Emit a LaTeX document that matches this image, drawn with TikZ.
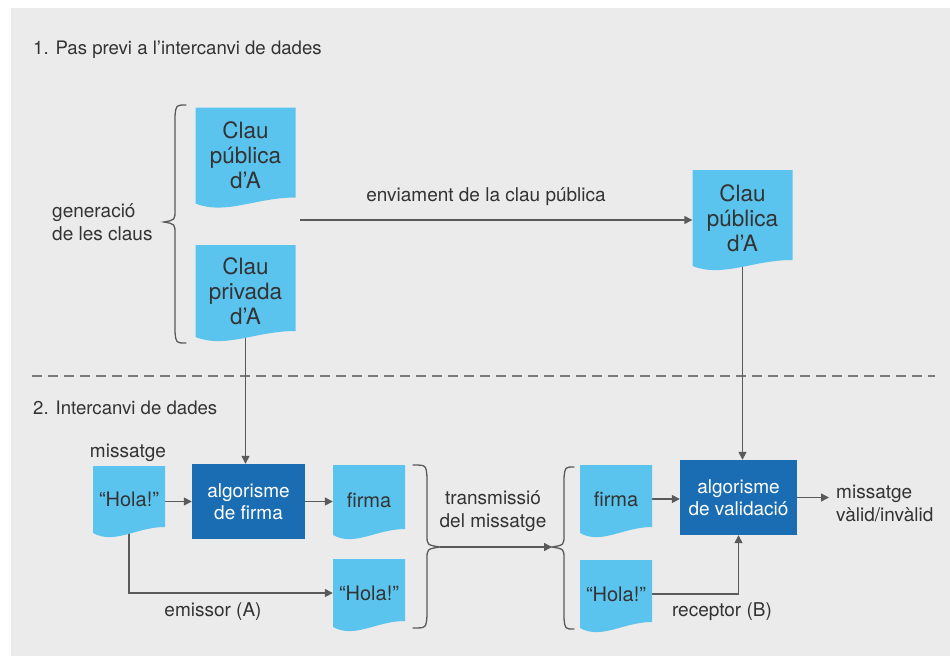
\documentclass[tikz,border=0pt]{standalone}
\usepackage{fontspec}
\setmainfont{TeX Gyre Heros}
\usetikzlibrary{arrows.meta}

\definecolor{bgpanel}{HTML}{EBEBEB}
\definecolor{docfill}{HTML}{5BC4EE}
\definecolor{algofill}{HTML}{1A6DB3}
\definecolor{inkgray}{HTML}{333333}
\definecolor{wiregray}{HTML}{5A5A5A}
\definecolor{dashgray}{HTML}{7A7A7A}

\pgfdeclarelayer{back}
\pgfdeclarelayer{wires}
\pgfsetlayers{back,wires,main}

\tikzset{
  doctext/.style={inner sep=0pt, align=center, text=inkgray,
    font=\fontsize{20}{25}\selectfont},
  keytext/.style={font=\fontsize{22.5}{25}\selectfont},
  algobox/.style={fill=algofill, text=white, align=center, inner sep=0pt,
    font=\fontsize{19}{22}\selectfont},
  lbltext/.style={text=inkgray, inner sep=0pt,
    font=\fontsize{19}{23}\selectfont},
  wire/.style={draw=wiregray, line width=1.4pt},
  arrow/.style={wire, -{Triangle[length=8pt,width=8pt]}},
  curly/.style={draw=wiregray, line width=1.3pt, line cap=round},
}

% document symbol: name, left, top, width, height, text (optional extra style)
\newcommand{\docbox}[7][]{%
  \fill[docfill] (#3,#4) -- (#3+#5,#4) -- (#3+#5,#4+#6-6)
    .. controls (#3+0.6*#5,#4+#6-6) and (#3+0.3*#5,#4+#6+12) .. (#3,#4+#6) -- cycle;
  \node[doctext, #1, minimum width=#5pt, minimum height=#6pt] (#2) at (#3+#5/2,#4+#6/2) {#7};
}

\begin{document}
\begin{tikzpicture}[x=1pt, y=-1pt]
  \useasboundingbox (0,0) rectangle (950,656);
  \begin{pgfonlayer}{back}
    \fill[white] (0,0) rectangle (950,656);
    \fill[bgpanel] (11,8) rectangle (950,656);
    \draw[dashgray, line width=2pt, dash pattern=on 10pt off 6pt] (32,376) -- (935,376);
  \end{pgfonlayer}

  % section titles
  \node[lbltext, font=\fontsize{18.6}{23}\selectfont, anchor=west] (t1) at (33,50) {1. Pas previ a l’intercanvi de dades};
  \node[lbltext, font=\fontsize{18.6}{23}\selectfont, anchor=west] (t2) at (33,408) {2. Intercanvi de dades};

  % key generation
  \docbox[keytext]{pubA}{195.5}{107.5}{100}{96}{Clau\\pública\\d’A}
  \docbox[keytext]{priv}{195.5}{245}{100}{92}{Clau\\privada\\d’A}
  \docbox[keytext]{pubB}{692.5}{170}{100}{96}{Clau\\pública\\d’A}

  \draw[curly] (186,105) .. controls (176,105) .. (175,116) -- (175,210)
    .. controls (175,220) .. (164,222) .. controls (175,224) .. (175,234)
    -- (175,332) .. controls (176,343) .. (186,343);
  \node[lbltext, anchor=west, align=left] (gen) at (52,222) {generació\\de les claus};

  \coordinate (sendA) at (300,220);
  \node[lbltext] (send) at (486,197) {enviament de la clau pública};

  % sender side
  \node[lbltext] (msg) at (128,453) {missatge};
  \docbox{hola1}{93}{466}{72}{67}{“Hola!”}
  \node[algobox, minimum width=113pt, minimum height=75pt] (algoF) at (248.5,501.5) {algorisme\\de firma};
  \docbox{firmaA}{333}{465}{72}{70}{firma}
  \docbox{holaB}{333}{559}{72}{68}{“Hola!”}
  \node[lbltext] (emis) at (213,612) {emissor (A)};

  % transmission
  \draw[curly] (413,465) .. controls (426,465) .. (427,477) -- (427,535)
    .. controls (427,545) .. (440,547) .. controls (427,549) .. (427,559)
    -- (427,616) .. controls (426,628) .. (413,628);
  \coordinate (txout) at (440,547);
  \node[lbltext, align=center] (trans) at (493,511.5) {transmissió\\del missatge};
  \draw[curly] (574,467) .. controls (565,467) .. (564,478) -- (564,535)
    .. controls (564,545) .. (552,547) .. controls (564,549) .. (564,559)
    -- (564,618) .. controls (565,629) .. (574,629);
  \coordinate (rxin) at (552,547);

  % receiver side
  \docbox{firmaB}{580}{465}{72}{68}{firma}
  \docbox{holaC}{580}{560}{72}{68}{“Hola!”}
  \node[algobox, minimum width=117pt, minimum height=75pt] (algoV) at (738.5,497.5) {algorisme\\de validació};
  \node[lbltext] (recp) at (722,612) {receptor (B)};
  \node[lbltext, anchor=west, align=left] (res) at (836,503) {missatge\\vàlid/invàlid};

  % connectors
  \begin{pgfonlayer}{wires}
    \draw[arrow] (sendA) -- (sendA -| pubB.west);
    \draw[arrow] (priv.south) -- (priv.south |- algoF.north);
    \draw[arrow] (pubB.south) -- (pubB.south |- algoV.north);
    \draw[arrow] (hola1.east |- algoF.west) -- (algoF.west);
    \draw[arrow] (algoF.east) -- (algoF.east -| firmaA.west);
    \draw[arrow] (hola1.south) |- (holaB.west);
    \draw[arrow] (txout) -- (rxin);
    \draw[arrow] (firmaB.east) -- (firmaB.east -| algoV.west);
    \draw[arrow] (holaC.east) -| (algoV.south);
    \draw[arrow, shorten >=7pt] (algoV.east) -- (algoV.east -| res.west);
  \end{pgfonlayer}
\end{tikzpicture}
\end{document}
